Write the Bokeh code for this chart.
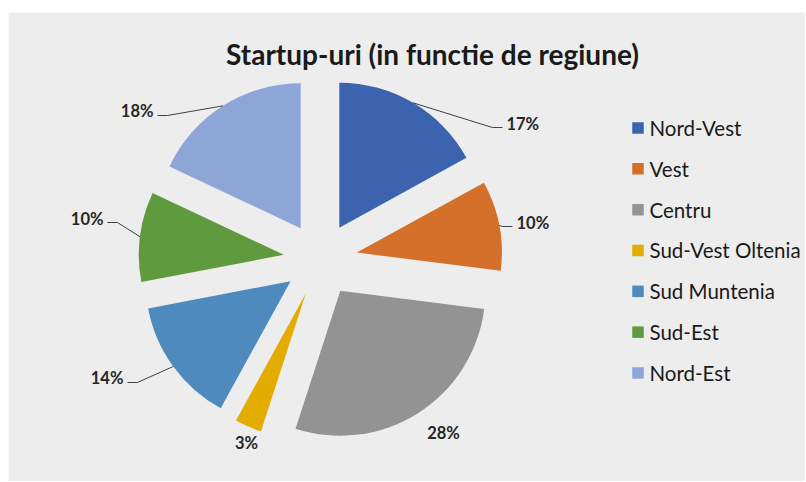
import numpy as np
from bokeh.plotting import figure
from bokeh.models import Range1d, Spacer, ColumnDataSource
from bokeh.layouts import column, row
from bokeh.core.properties import value
from bokeh.embed import file_html
from bokeh.resources import INLINE

# ---------------- data ----------------
title_text = "Startup-uri (in functie de regiune)"
regions = ["Nord-Vest", "Vest", "Centru", "Sud-Vest Oltenia",
           "Sud Muntenia", "Sud-Est", "Nord-Est"]
shares = [17, 10, 28, 3, 14, 10, 18]
pct_labels = ["17%", "10%", "28%", "3%", "14%", "10%", "18%"]
colors = ["#3c64ae", "#d5702b", "#939393", "#e2ac00",
          "#4e8abe", "#609a3e", "#8ea5d7"]

# ---------------- layout / style ----------------
W, H = 797, 469
BG = "#ededed"
FONT = "Lato"
cx, cy = 312, 215          # pie centre (px in frame)
R = 145                    # radius
EXPLODE = 37               # slice explosion distance
# label anchor (clockwise angle from 12 o'clock, distance from centre)
label_polar = [(54.05, 224.8), (80.25, 194.8), (144.6, 212.3), (201.9, 198.3),
               (237.5, 228.9), (279.85, 216.2), (311.46, 217.5)]
has_leader = [True, True, False, False, True, True, True]
legend_x, legend_text_x = 629.5, 641
legend_y0, legend_step = 346.5, 40.83

p = figure(width=W, height=H, x_range=Range1d(0, W), y_range=Range1d(-7, 462),
           output_backend="svg", toolbar_location=None, min_border=0,
           background_fill_color=BG, border_fill_color=BG, outline_line_color=None)
p.axis.visible = False
p.grid.visible = False

tot = float(sum(shares))
cum = np.concatenate([[0.0], np.cumsum(shares)]) / tot * 360.0
th_s, th_e = cum[:-1], cum[1:]
mid = (th_s + th_e) / 2.0
mid_r = np.radians(mid)
wx = cx + EXPLODE * np.sin(mid_r)
wy = cy + EXPLODE * np.cos(mid_r)

src = ColumnDataSource(dict(
    x=wx, y=wy,
    start=np.radians(90.0 - th_s), end=np.radians(90.0 - th_e),
    color=colors, region=regions))
p.wedge(x="x", y="y", radius=R, start_angle="start", end_angle="end",
        direction="clock", fill_color="color", line_color=None, source=src)

# percentage labels + leader lines
tx, ty, ta = [], [], []
for i, (ang, dist) in enumerate(label_polar):
    a = np.radians(ang)
    ax = cx + dist * np.sin(a)
    ay = cy + dist * np.cos(a)
    if has_leader[i]:
        side = 1 if ax > cx else -1
        mx = wx[i] + R * np.sin(mid_r[i])
        my = wy[i] + R * np.cos(mid_r[i])
        p.line([mx, ax - side * 10, ax], [my, ay, ay], line_color="#404040", line_width=1)
        tx.append(ax + side * 4)
        ty.append(ay + 4)
        ta.append("left" if side > 0 else "right")
    else:
        tx.append(ax)
        ty.append(ay)
        ta.append("center")
p.text(x=tx, y=ty, text=pct_labels, text_align=ta, text_baseline="middle",
       text_font=value(FONT), text_font_style="bold", text_font_size="16.5px",
       text_color="#262626")

# title
p.text(x=[424], y=[421], text=[title_text], text_align="center",
       text_baseline="alphabetic", text_font=value(FONT), text_font_style="bold",
       text_font_size="28px", text_color="#1a1a1a")

# legend
ly = [legend_y0 - legend_step * i for i in range(len(regions))]
p.rect(x=[legend_x] * len(regions), y=ly, width=11.5, height=11.5,
       fill_color=colors, line_color=None)
p.text(x=[legend_text_x] * len(regions), y=ly, text=regions, text_align="left",
       text_baseline="middle", text_font=value(FONT), text_font_size="20.5px",
       text_color="#1a1a1a")

layout = row(Spacer(width=8, height=12),
             column(Spacer(width=W, height=12), p))
open("out.html", "w").write(file_html(layout, INLINE))
